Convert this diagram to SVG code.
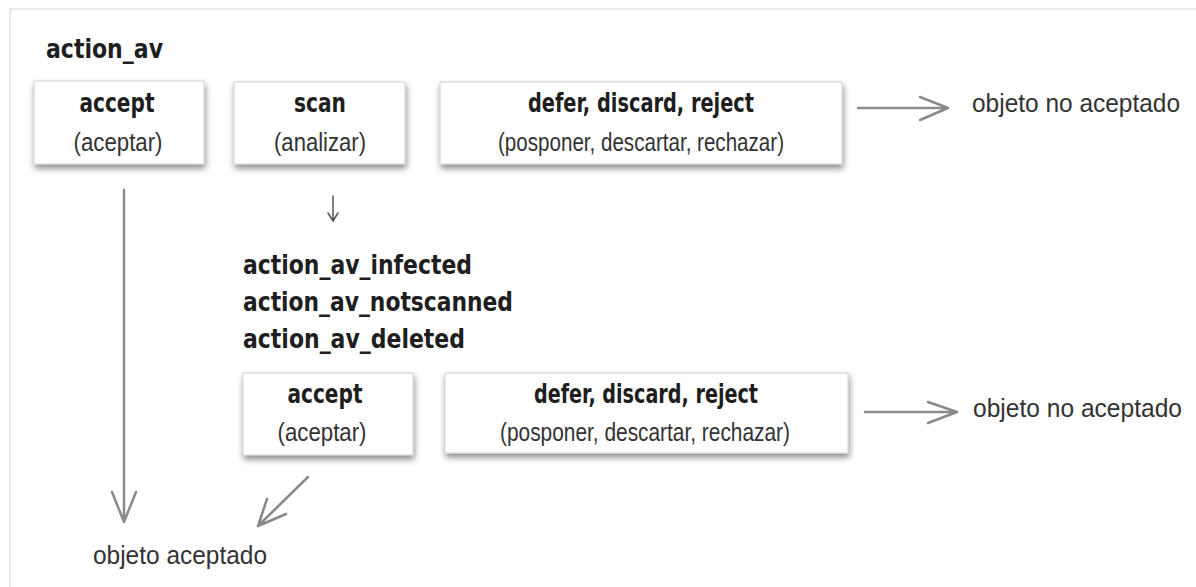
<svg xmlns="http://www.w3.org/2000/svg" width="1196" height="587" viewBox="0 0 1196 587">
<defs>
<filter id="sh" x="-10%" y="-20%" width="120%" height="150%">
<feDropShadow dx="1" dy="4" stdDeviation="3" flood-color="#000" flood-opacity="0.45"/>
</filter>
<style>
.box{fill:#fff;stroke:#d0d0d0;stroke-width:1;filter:url(#sh)}
.b{font-family:"DejaVu Sans Condensed","DejaVu Sans","Liberation Sans Narrow",sans-serif;font-weight:bold;fill:#1e1e1e}
.r{font-family:"Liberation Sans","Arial",sans-serif;fill:#333}
.c{text-anchor:middle}
.ln{fill:none;stroke:#8a8a8a;stroke-width:2.5;stroke-linecap:round;stroke-linejoin:round}
.sm{fill:none;stroke:#555;stroke-width:1.5;stroke-linecap:round}
</style>
</defs>
<rect x="0" y="0" width="1196" height="587" fill="#fff"/>
<path d="M10 587 V9 H1196" fill="none" stroke="#e4e4e4" stroke-width="1.5"/>

<g id="title">
<text class="b" x="46" y="58" font-size="27" textLength="117" lengthAdjust="spacingAndGlyphs">action_av</text>
</g>

<g id="accept1">
<rect class="box" x="34" y="81" width="170" height="83"/>
<text class="b c" x="117" y="112" font-size="27" textLength="75" lengthAdjust="spacingAndGlyphs">accept</text>
<text class="r c" x="118" y="151" font-size="25" textLength="89" lengthAdjust="spacingAndGlyphs">(aceptar)</text>
</g>

<g id="scan">
<rect class="box" x="234" y="82" width="171" height="82"/>
<text class="b c" x="320" y="112" font-size="27" textLength="52" lengthAdjust="spacingAndGlyphs">scan</text>
<text class="r c" x="320" y="151" font-size="25" textLength="92" lengthAdjust="spacingAndGlyphs">(analizar)</text>
</g>

<g id="defer1">
<rect class="box" x="440" y="82" width="402" height="82"/>
<text class="b c" x="641" y="112" font-size="27" textLength="226" lengthAdjust="spacingAndGlyphs">defer, discard, reject</text>
<text class="r c" x="641" y="151" font-size="25" textLength="286" lengthAdjust="spacingAndGlyphs">(posponer, descartar, rechazar)</text>
</g>

<g id="notaccepted1">
<text class="r" x="972" y="112" font-size="25" textLength="208" lengthAdjust="spacingAndGlyphs">objeto no aceptado</text>
</g>

<g id="results">
<text class="b" x="243" y="274" font-size="27" textLength="229" lengthAdjust="spacingAndGlyphs">action_av_infected</text>
<text class="b" x="243" y="311" font-size="27" textLength="270" lengthAdjust="spacingAndGlyphs">action_av_notscanned</text>
<text class="b" x="243" y="348" font-size="27" textLength="222" lengthAdjust="spacingAndGlyphs">action_av_deleted</text>
</g>

<g id="accept2">
<rect class="box" x="243" y="373" width="170" height="82"/>
<text class="b c" x="325" y="403" font-size="27" textLength="75" lengthAdjust="spacingAndGlyphs">accept</text>
<text class="r c" x="322" y="441" font-size="25" textLength="89" lengthAdjust="spacingAndGlyphs">(aceptar)</text>
</g>

<g id="defer2">
<rect class="box" x="445" y="373" width="403" height="80"/>
<text class="b c" x="646" y="403" font-size="27" textLength="224" lengthAdjust="spacingAndGlyphs">defer, discard, reject</text>
<text class="r c" x="645" y="441" font-size="25" textLength="290" lengthAdjust="spacingAndGlyphs">(posponer, descartar, rechazar)</text>
</g>

<g id="notaccepted2">
<text class="r" x="973" y="417" font-size="25" textLength="209" lengthAdjust="spacingAndGlyphs">objeto no aceptado</text>
</g>

<g id="accepted">
<text class="r" x="93" y="564" font-size="25" textLength="174" lengthAdjust="spacingAndGlyphs">objeto aceptado</text>
</g>

<g id="connectors">
<path class="ln" d="M858 108 H948 M920 97 L948 108 L920 120"/>
<path class="ln" d="M865 412 H957 M928 402 L957 412 L928 423"/>
<path class="ln" d="M124 190 V522 M112 492 L124 522 L136 492"/>
<path class="ln" d="M308 477 L258 526 M267 499 L258 526 L286 514"/>
<path class="sm" d="M333 196 V221 M328 213 L333 221 L338 213"/>
</g>
</svg>
